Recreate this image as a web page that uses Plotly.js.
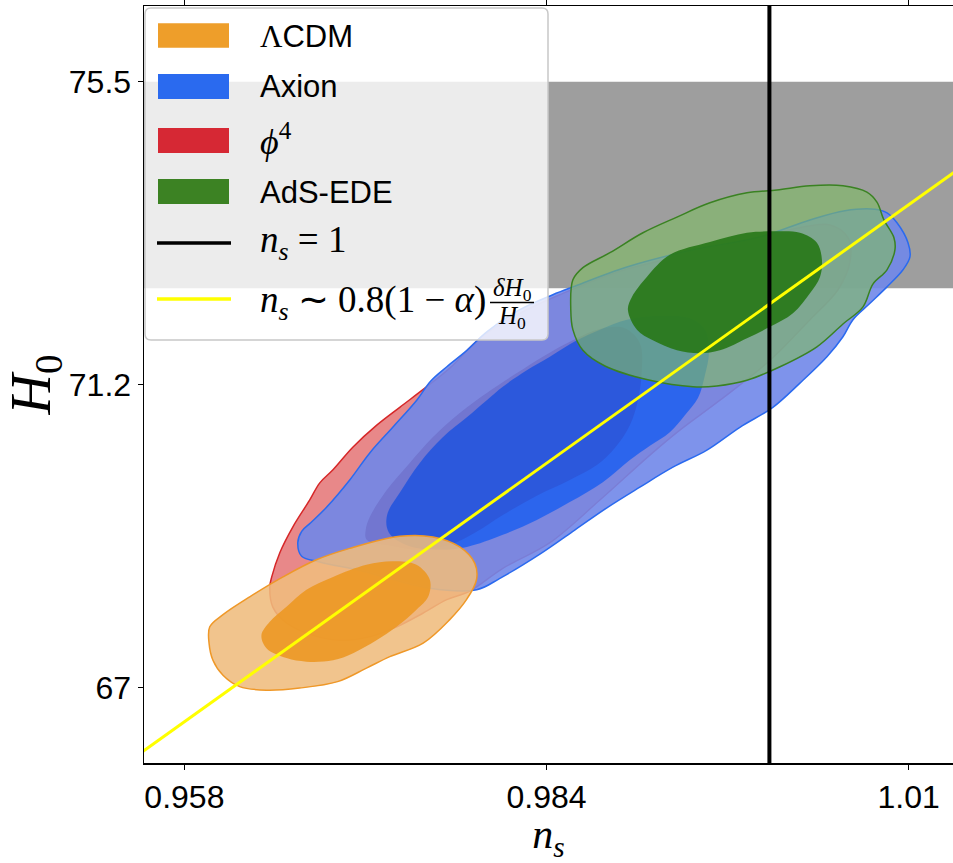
<!DOCTYPE html>
<html><head><meta charset="utf-8">
<script src="https://cdn.plot.ly/plotly-3.0.1.min.js"></script>
<style>html,body{margin:0;padding:0;background:#fff}#chart{width:953px;height:863px}</style>
</head><body><div id="chart"></div>
<script>
// ---------------- data ----------------
const xTickVals = [0.958, 0.984, 1.01];
const xTickText = ['0.958', '0.984', '1.01'];
const yTickVals = [67, 71.25, 75.5];
const yTickText = ['67', '71.2', '75.5'];

const modelNames = ['ΛCDM', 'Axion', 'ϕ4', 'AdS-EDE'];

// SH0ES-like H0 band
const h0Band = [72.6, 75.5];
// n_s = 1 reference
const nsUnityX = [1, 1];
const nsUnityY = [65, 77];
// n_s ~ 0.8(1-alpha) dH0/H0 relation (two end points)
const relNs = [0.95, 1.02];
const relH0 = [65.40, 75.17];

// ΛCDM contours
const lcdmOuterNs = [0.95982,0.96077,0.96269,0.96508,0.96748,0.96987,0.97346,0.97585,0.97777,0.97885,0.97897,0.97825,0.97705,0.97514,0.97275,0.97107,0.96900,0.96628,0.96389,0.96197,0.96077,0.96005,0.95977];
const lcdmOuterH0 = [67.85,68.02,68.27,68.55,68.79,68.95,69.12,69.11,68.97,68.74,68.51,68.23,67.95,67.62,67.43,67.27,67.08,66.99,66.96,67.01,67.17,67.38,67.62];
const lcdmInnerNs = [0.96353,0.96413,0.96533,0.96676,0.96867,0.97107,0.97298,0.97466,0.97562,0.97550,0.97466,0.97323,0.97179,0.97011,0.96867,0.96676,0.96533,0.96389];
const lcdmInnerH0 = [67.73,67.92,68.13,68.37,68.55,68.72,68.77,68.72,68.51,68.27,68.09,67.85,67.66,67.48,67.38,67.36,67.41,67.55];

// Axion contours
const axionOuterNs = [0.96642,0.96614,0.96642,0.96707,0.96822,0.96987,0.97131,0.97296,0.97468,0.97569,0.97684,0.97828,0.97971,0.98208,0.98445,0.98589,0.98977,0.99451,0.99932,1.00291,1.00542,1.00758,1.00844,1.00916,1.00995,1.01009,1.00959,1.00844,1.00722,1.00600,1.00528,1.00413,1.00219,1.00025,0.99788,0.99551,0.99307,0.99070,0.98833,0.98589,0.98352,0.98065,0.97899,0.97562,0.97081,0.96772];
const axionOuterH0 = [68.84,69.03,69.19,69.31,69.53,69.91,70.29,70.65,71.03,71.30,71.50,71.73,71.99,72.30,72.51,72.62,72.90,73.14,73.32,73.56,73.69,73.71,73.66,73.52,73.24,73.04,72.86,72.62,72.39,72.16,71.92,71.64,71.27,70.93,70.65,70.33,70.09,69.81,69.52,69.19,68.87,68.53,68.37,68.39,68.63,68.76];
const axionInnerNs = [0.97289,0.97253,0.97260,0.97346,0.97490,0.97655,0.97828,0.97971,0.98086,0.98258,0.98424,0.98618,0.98783,0.98977,0.99214,0.99429,0.99537,0.99566,0.99537,0.99487,0.99393,0.99285,0.99142,0.98998,0.98804,0.98567,0.98330,0.98086,0.97828,0.97634,0.97418];
const axionInnerH0 = [69.12,69.25,69.45,69.73,70.15,70.51,70.79,71.03,71.22,71.45,71.64,71.87,72.02,72.16,72.21,72.18,72.02,71.71,71.38,71.06,70.82,70.58,70.39,70.19,69.88,69.60,69.35,69.14,68.97,68.93,68.98];

// phi^4 contours
const phi4OuterNs = [0.96413,0.96427,0.96485,0.96578,0.96700,0.96772,0.96865,0.97009,0.97181,0.97346,0.97540,0.97705,0.97935,0.98208,0.98495,0.98926,0.99429,0.99860,1.00219,1.00435,1.00564,1.00578,1.00492,1.00291,1.00004,0.99645,0.99357,0.99142,0.98783,0.98424,0.98086,0.97849,0.97684,0.97512,0.97325,0.97131,0.96915,0.96722,0.96535,0.96434];
const phi4OuterH0 = [68.41,68.55,68.89,69.25,69.63,69.87,70.05,70.37,70.68,70.93,71.22,71.48,71.92,72.25,72.51,72.84,73.08,73.28,73.45,73.49,73.31,72.97,72.58,72.16,71.59,71.03,70.61,70.26,69.63,69.03,68.67,68.35,68.23,68.04,67.85,67.71,67.66,67.73,67.90,68.13];
const phi4InnerNs = [0.97109,0.97102,0.97131,0.97253,0.97418,0.97583,0.97777,0.97971,0.98187,0.98373,0.98589,0.98783,0.98962,0.99070,0.99084,0.99056,0.98998,0.98890,0.98761,0.98567,0.98330,0.98086,0.97885,0.97705,0.97490,0.97296];
const phi4InnerH0 = [69.07,69.21,69.39,69.77,70.15,70.51,70.85,71.13,71.41,71.64,71.87,72.03,72.04,71.83,71.45,71.03,70.68,70.36,70.12,69.91,69.69,69.42,69.17,69.00,68.93,68.98];

// AdS-EDE contours
const adsOuterNs = [0.98574,0.98589,0.98661,0.98855,0.99092,0.99336,0.99573,0.99839,1.00054,1.00291,1.00528,1.00700,1.00772,1.00822,1.00894,1.00901,1.00844,1.00743,1.00672,1.00528,1.00341,1.00076,0.99839,0.99623,0.99451,0.99142,0.98819,0.98661,0.98589];
const adsOuterH0 = [72.30,72.72,72.89,73.10,73.38,73.60,73.80,73.94,73.98,74.04,74.04,73.95,73.81,73.56,73.31,73.14,72.86,72.66,72.34,72.10,71.78,71.50,71.31,71.23,71.22,71.31,71.51,71.73,72.02];
const adsInnerNs = [0.98984,0.99013,0.99120,0.99285,0.99573,0.99839,1.00025,1.00219,1.00341,1.00377,1.00363,1.00291,1.00169,1.00004,0.99839,0.99645,0.99501,0.99336,0.99163,0.99049];
const adsInnerH0 = [72.30,72.48,72.76,73.07,73.25,73.38,73.40,73.38,73.24,73.00,72.76,72.53,72.25,72.06,71.90,71.73,71.69,71.73,71.87,72.02];

// ---------------- drawing ----------------
function closed(a) { return a.concat([a[0]]); }
function region(xs, ys, fill, lineColor, lineWidth) {
  return {
    type: 'scatter', mode: 'lines', x: closed(xs), y: closed(ys),
    fill: 'toself', fillcolor: fill,
    line: { color: lineColor, width: lineWidth, shape: 'spline', smoothing: 1 },
    hoverinfo: 'skip', showlegend: false
  };
}

const traces = [
  region(phi4OuterNs, phi4OuterH0, 'rgba(214,39,40,0.55)', '#d62728', 1.5),
  region(axionOuterNs, axionOuterH0, 'rgba(112,135,233,0.9)', '#2a6aef', 1.5),
  region(axionInnerNs, axionInnerH0, 'rgba(30,95,240,0.85)', 'rgba(0,0,0,0)', 0),
  region(phi4InnerNs, phi4InnerH0, 'rgba(50,10,110,0.13)', 'rgba(0,0,0,0)', 0),
  region(lcdmOuterNs, lcdmOuterH0, 'rgba(239,188,125,0.88)', 'rgb(239,152,40)', 1.5),
  region(lcdmInnerNs, lcdmInnerH0, 'rgba(236,152,35,0.9)', 'rgba(0,0,0,0)', 0),
  region(adsOuterNs, adsOuterH0, 'rgba(127,186,103,0.65)', 'rgb(58,130,34)', 1.5),
  region(adsInnerNs, adsInnerH0, 'rgba(40,120,25,0.92)', 'rgba(0,0,0,0)', 0),
  { type: 'scatter', mode: 'lines', x: relNs, y: relH0, line: { color: '#ffff00', width: 3 }, hoverinfo: 'skip', showlegend: false },
  { type: 'scatter', mode: 'lines', x: nsUnityX, y: nsUnityY, line: { color: '#000', width: 4 }, hoverinfo: 'skip', showlegend: false }
];

// plot area pixels: x 144..953, y 6..763
const W = 953, H = 863, L = 144, R = 0, T = 6, B = 100;
const pw = W - L - R, ph = H - T - B;
const px = v => (v - L) / pw;          // pixel x -> paper
const py = v => (H - B - v) / ph;      // pixel y -> paper

const patchColors = ['#ee9e2a', '#2a6aef', '#d62834', '#3c8223'];
const patchRows = [[23.3, 47.7], [74, 99], [128, 153], [179, 204]];
const shapes = [
  { type: 'rect', xref: 'paper', x0: 0, x1: 1, yref: 'y', y0: h0Band[0], y1: h0Band[1],
    fillcolor: '#9e9e9e', line: { width: 0 }, layer: 'below' }
];
// legend frame (rounded)
(function () {
  const x0 = px(145), x1 = px(548), y0 = py(340), y1 = py(8);
  const dx = 6 / pw, dy = 6 / ph;
  const p = `M${x0 + dx},${y0} L${x1 - dx},${y0} Q${x1},${y0} ${x1},${y0 + dy} L${x1},${y1 - dy} Q${x1},${y1} ${x1 - dx},${y1} L${x0 + dx},${y1} Q${x0},${y1} ${x0},${y1 - dy} L${x0},${y0 + dy} Q${x0},${y0} ${x0 + dx},${y0} Z`;
  shapes.push({ type: 'path', xref: 'paper', yref: 'paper', path: p,
    fillcolor: 'rgba(255,255,255,0.8)', line: { color: 'rgba(200,200,200,1)', width: 1.5 }, layer: 'above' });
})();
patchRows.forEach((r, i) => {
  shapes.push({ type: 'rect', xref: 'paper', yref: 'paper', x0: px(158), x1: px(229), y0: py(r[1]), y1: py(r[0]),
    fillcolor: patchColors[i], line: { width: 0 }, layer: 'above' });
});
shapes.push({ type: 'line', xref: 'paper', yref: 'paper', x0: px(157), x1: px(231), y0: py(243), y1: py(243),
  line: { color: '#000', width: 3.5 }, layer: 'above' });
shapes.push({ type: 'line', xref: 'paper', yref: 'paper', x0: px(157), x1: px(231), y0: py(299), y1: py(299),
  line: { color: '#ffff00', width: 3.5 }, layer: 'above' });
// fraction bar
shapes.push({ type: 'line', xref: 'paper', yref: 'paper', x0: px(490), x1: px(534), y0: py(302.5), y1: py(302.5),
  line: { color: '#000', width: 1.5 }, layer: 'above' });

const SANS = 'Liberation Sans, Arial, sans-serif';
const SERIF = 'Liberation Serif, Times New Roman, serif';
const legendLabels = [
  { t: '<span style="font-family:Liberation Serif">Λ</span>CDM', y: 36, f: SANS, s: 31 },
  { t: modelNames[1], y: 87, f: SANS, s: 31 },
  { t: '<i>ϕ</i><sup>4</sup>', y: 140, f: SERIF, s: 36 },
  { t: modelNames[3], y: 192, f: SANS, s: 31 },
  { t: '<i>n</i><sub><i>s</i></sub> = 1', y: 243, f: SERIF, s: 37 },
  { t: '<i>n</i><sub><i>s</i></sub> ∼ 0.8(1 − <i>α</i>)', y: 302, f: SERIF, s: 37 }
];
const annotations = legendLabels.map(l => ({
  xref: 'paper', yref: 'paper', x: px(258), y: py(l.y), xanchor: 'left', yanchor: 'middle',
  text: l.t, showarrow: false, font: { family: l.f, size: l.s, color: '#000' }
}));
annotations.push({ xref: 'paper', yref: 'paper', x: px(512), y: py(289), xanchor: 'center', yanchor: 'middle',
  text: '<i>δH</i><sub>0</sub>', showarrow: false, font: { family: SERIF, size: 25, color: '#000' } });
annotations.push({ xref: 'paper', yref: 'paper', x: px(512), y: py(317), xanchor: 'center', yanchor: 'middle',
  text: '<i>H</i><sub>0</sub>', showarrow: false, font: { family: SERIF, size: 25, color: '#000' } });

const layout = {
  width: W, height: H,
  margin: { l: L, r: R, t: T, b: B, pad: 0 },
  paper_bgcolor: '#fff', plot_bgcolor: '#fff',
  showlegend: false,
  xaxis: {
    range: [0.95510, 1.01318], tickmode: 'array', tickvals: xTickVals, ticktext: xTickText,
    ticks: 'outside', ticklen: 5, tickwidth: 1.5, tickcolor: '#000',
    showline: true, linecolor: '#000', linewidth: 1.5, mirror: 'allticks',
    showgrid: false, zeroline: false,
    tickfont: { family: SANS, size: 32, color: '#000' },
    title: { text: '<i>n</i><sub><i>s</i></sub>', font: { family: SERIF, size: 42, color: '#000' }, standoff: 8 }
  },
  yaxis: {
    range: [65.938, 76.5625], tickmode: 'array', tickvals: yTickVals, ticktext: yTickText,
    ticks: 'outside', ticklen: 5, tickwidth: 1.5, tickcolor: '#000',
    showline: true, linecolor: '#000', linewidth: 1.5, mirror: 'allticks',
    showgrid: false, zeroline: false,
    tickfont: { family: SANS, size: 32, color: '#000' },
    title: { text: '<i>H</i><sub>0</sub>', font: { family: SERIF, size: 56, color: '#000' }, standoff: 10 }
  },
  shapes: shapes,
  annotations: annotations
};

Plotly.newPlot('chart', traces, layout, { displayModeBar: false, staticPlot: true });
</script></body></html>
